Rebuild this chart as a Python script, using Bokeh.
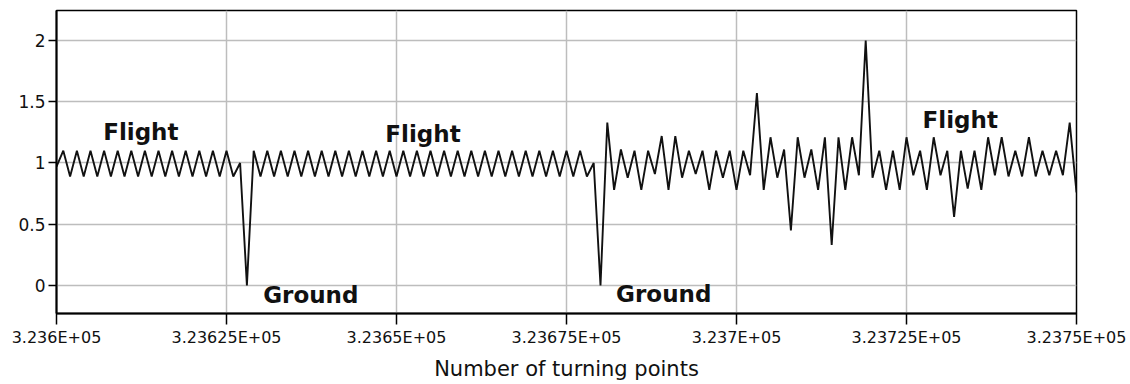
from bokeh.plotting import figure
from bokeh.models import Range1d, FixedTicker, ColumnDataSource
from bokeh.core.properties import value
from bokeh.embed import file_html
from bokeh.resources import INLINE

# ---- data ----
turning_point = list(range(323600, 323751))
signal = [
    0.97,
    1.1, 0.89, 1.1, 0.89, 1.1, 0.89, 1.1, 0.89, 1.1, 0.89,   # 1-10
    1.1, 0.89, 1.1, 0.89, 1.1, 0.89, 1.1, 0.89, 1.1, 0.89,   # 11-20
    1.1, 0.89, 1.1, 0.89, 1.1, 0.89, 1.0, 0.0, 1.1, 0.89,    # 21-30
    1.1, 0.89, 1.1, 0.89, 1.1, 0.89, 1.1, 0.89, 1.1, 0.89,   # 31-40
    1.1, 0.89, 1.1, 0.89, 1.1, 0.89, 1.1, 0.89, 1.1, 0.89,   # 41-50
    1.1, 0.89, 1.1, 0.89, 1.1, 0.89, 1.1, 0.89, 1.1, 0.89,   # 51-60
    1.1, 0.89, 1.1, 0.89, 1.1, 0.89, 1.1, 0.89, 1.1, 0.89,   # 61-70
    1.1, 0.89, 1.1, 0.89, 1.1, 0.89, 1.1, 0.89, 1.0, 0.0,    # 71-80
    1.33, 0.78, 1.11, 0.88, 1.1, 0.78, 1.1, 0.91, 1.22, 0.78,  # 81-90
    1.22, 0.88, 1.1, 0.91, 1.1, 0.78, 1.1, 0.88, 1.1, 0.78,    # 91-100
    1.1, 0.9, 1.57, 0.78, 1.21, 0.88, 1.11, 0.45, 1.21, 0.88,  # 101-110
    1.11, 0.78, 1.21, 0.33, 1.21, 0.78, 1.21, 0.9, 2.0, 0.88,  # 111-120
    1.1, 0.78, 1.1, 0.78, 1.21, 0.9, 1.1, 0.78, 1.21, 0.9,     # 121-130
    1.1, 0.56, 1.1, 0.79, 1.1, 0.78, 1.21, 0.9, 1.21, 0.89,    # 131-140
    1.1, 0.89, 1.21, 0.89, 1.1, 0.9, 1.1, 0.9, 1.33, 0.76,     # 141-150
]

x_ticks = [323600, 323625, 323650, 323675, 323700, 323725, 323750]
x_tick_labels = ["3.236E+05", "3.23625E+05", "3.2365E+05", "3.23675E+05",
                 "3.237E+05", "3.23725E+05", "3.2375E+05"]
y_ticks = [0, 0.5, 1, 1.5, 2]
y_tick_labels = ["0", "0.5", "1", "1.5", "2"]

phase_text = ["Flight", "Flight", "Flight", "Ground", "Ground"]
phase_x = [323612.4, 323653.9, 323732.9, 323637.4, 323689.3]
phase_y = [1.25, 1.233, 1.355, -0.082, -0.068]

x_title = "Number of turning points"

# ---- figure ----
p = figure(width=1130, height=384, output_backend="svg", toolbar_location=None,
           x_range=Range1d(323600, 323750), y_range=Range1d(-0.229, 2.245),
           min_border_left=56, min_border_right=54, min_border_top=10,
           min_border_bottom=71)

p.background_fill_color = "white"
p.border_fill_color = "white"
p.outline_line_color = "black"
p.outline_line_width = 1.5

p.line(turning_point, signal, line_color="#111111", line_width=1.9)

src = ColumnDataSource(dict(x=phase_x, y=phase_y, t=phase_text))
p.text(x="x", y="y", text="t", source=src, text_font=value("DejaVu Sans"),
       text_font_style="bold", text_font_size="23px", text_color="#111111",
       text_align="center", text_baseline="alphabetic")

# axes
p.xaxis.ticker = FixedTicker(ticks=x_ticks)
p.xaxis.major_label_overrides = {t: l for t, l in zip(x_ticks, x_tick_labels)}
p.yaxis.ticker = FixedTicker(ticks=y_ticks)
p.yaxis.major_label_overrides = {t: l for t, l in zip(y_ticks, y_tick_labels)}

for ax in (p.xaxis, p.yaxis):
    ax.axis_line_color = "black"
    ax.axis_line_width = 2
    ax.major_tick_line_color = "black"
    ax.major_tick_line_width = 1.5
    ax.major_tick_in = 0
    ax.minor_tick_line_color = None
    ax.major_label_text_font = "DejaVu Sans"
    ax.major_label_text_color = "#111111"

p.xaxis.major_tick_out = 11
p.xaxis.major_label_standoff = 3
p.xaxis.major_label_text_font_size = "16px"
p.yaxis.major_tick_out = 8
p.yaxis.major_label_standoff = 3
p.yaxis.major_label_text_font_size = "17px"

p.xaxis.axis_label = x_title
p.xaxis.axis_label_text_font = "DejaVu Sans"
p.xaxis.axis_label_text_font_style = "normal"
p.xaxis.axis_label_text_font_size = "21px"
p.xaxis.axis_label_text_color = "#111111"
p.xaxis.axis_label_standoff = 7

p.xgrid.grid_line_color = "#bdbdbd"
p.ygrid.grid_line_color = "#bdbdbd"
p.xgrid.grid_line_width = 1.5
p.ygrid.grid_line_width = 1.5

open("out.html", "w").write(file_html(p, INLINE))
